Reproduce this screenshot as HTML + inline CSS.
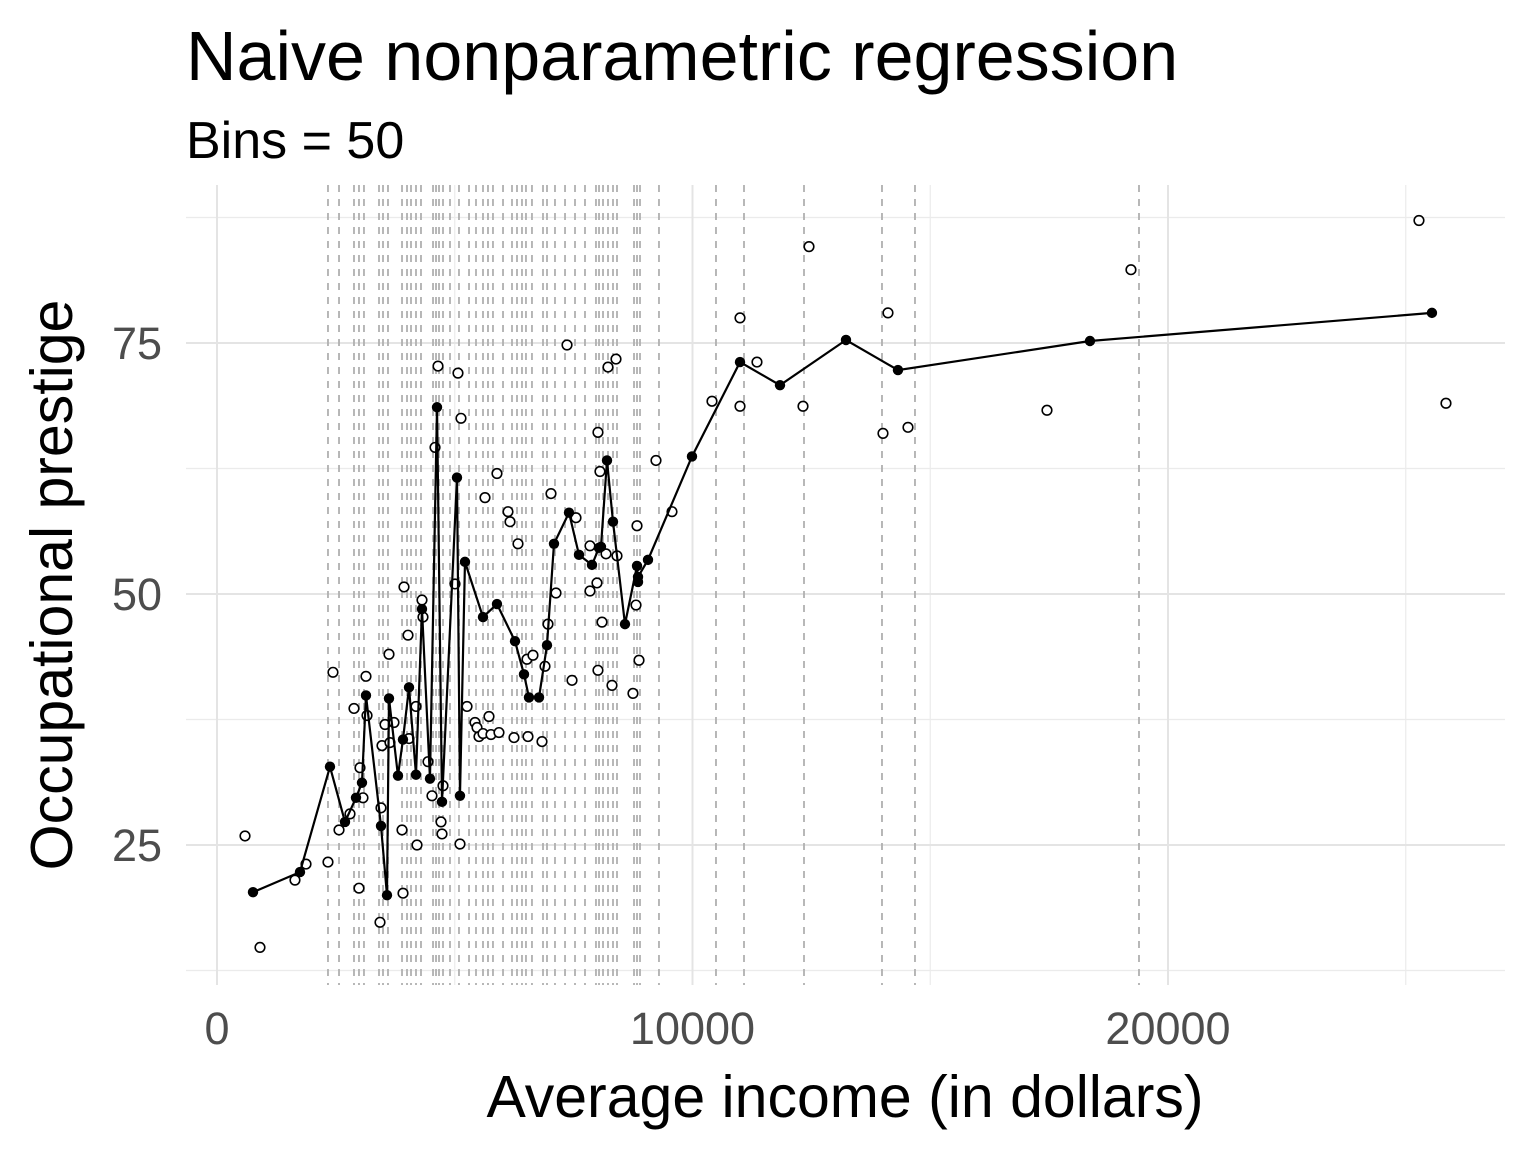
<!DOCTYPE html>
<html><head><meta charset="utf-8"><style>
html,body{margin:0;padding:0;background:#fff;}
svg{display:block;font-family:"Liberation Sans",sans-serif;}
</style></head><body>
<svg id="chart" width="1536" height="1152" viewBox="0 0 1536 1152" xmlns="http://www.w3.org/2000/svg">
<text x="186" y="80" font-size="70" fill="#000">Naive nonparametric regression</text>
<text x="186" y="158" font-size="52" fill="#000">Bins = 50</text>
<g id="grid"></g>
<g id="bins"></g>
<g id="raw"></g>
<g id="means"></g>
<g id="axes"></g>
<text x="845" y="1117" font-size="59" text-anchor="middle" fill="#000">Average income (in dollars)</text>
<text transform="translate(72,585) rotate(-90)" font-size="59" text-anchor="middle" fill="#000">Occupational prestige</text>
</svg>
<script>
const xTicks=[0,10000,20000];
const xMinor=[5000,15000,25000];
const yTicks=[25,50,75];
const yMinor=[12.5,37.5,62.5,87.5];
const binEdges=[2334,2566,2881,2986,3091,3407,3491,3596,3891,3996,4080,4185,4290,4543,4606,4669,4753,4900,5089,5300,5447,5594,5699,5804,6015,6204,6309,6414,6498,6624,6856,6940,7108,7319,7529,7739,7970,8034,8118,8223,8328,8412,8770,8833,8896,9295,10494,11083,12345,13985,14679,19390];
const rawIncome=[589,904,1640,1872,2334,2439,2566,2797,2881,2986,3007,3070,3133,3155,3428,3449,3470,3533,3617,3638,3722,3891,3912,3933,4017,4038,4185,4206,4311,4332,4437,4521,4585,4648,4711,4732,4753,5005,5068,5110,5131,5258,5426,5468,5510,5594,5636,5720,5762,5888,5930,6120,6162,6246,6330,6519,6540,6645,6835,6898,6961,7024,7129,7361,7466,7550,7844,7844,7991,8012,8012,8054,8097,8181,8223,8307,8391,8412,8748,8812,8833,8875,9232,9569,10410,10999,10999,11356,12324,12450,14006,14111,14532,17455,19221,25278,25846];
const rawPrestige=[25.9,14.8,21.5,23.1,23.3,42.2,26.5,28.1,38.6,20.7,32.7,29.7,41.8,37.9,17.3,28.7,34.9,37.0,44.0,35.2,37.2,26.5,20.2,50.7,45.9,35.6,38.8,25.0,49.4,47.7,33.3,29.9,64.6,72.7,27.3,26.1,30.9,51.0,72.0,25.1,67.5,38.8,37.2,36.7,35.8,36.1,59.6,37.8,36.0,62.0,36.2,58.2,57.2,35.7,55.0,43.5,35.8,43.9,35.3,42.8,47.0,60.0,50.1,74.8,41.4,57.6,54.8,50.3,51.1,66.1,42.4,62.2,47.2,54.0,72.6,40.9,73.4,53.8,40.1,48.9,56.8,43.4,63.3,58.2,69.2,77.5,68.7,73.1,68.7,84.6,66.0,78.0,66.6,68.3,82.3,87.2,69.0];
const meanIncome=[757,1745,2376,2692,2923,3049,3133,3449,3575,3617,3806,3911,4038,4185,4311,4479,4627,4732,5047,5110,5215,5594,5888,6267,6456,6561,6772,6940,7087,7403,7613,7886,8033,8075,8202,8328,8580,8833,8854,8854,9064,9989,10999,11840,13228,14321,18359,25551];
const meanPrestige=[20.3,22.3,32.8,27.3,29.7,31.2,39.9,26.9,20.0,39.6,31.9,35.5,40.7,32.0,48.5,31.6,68.6,29.3,61.6,29.9,53.2,47.7,49.0,45.3,42.0,39.7,39.7,44.9,55.0,58.1,53.9,52.9,54.6,54.7,63.3,57.2,47.0,52.8,51.2,51.7,53.4,63.7,73.1,70.8,75.3,72.3,75.2,78.0];

const NS="http://www.w3.org/2000/svg";
const PL=186,PR=1505,PT=185,PB=985;
const sx=v=>217+v*0.04755;
const sy=v=>343-(v-75)*10.04;
function mk(tag,attrs,parent){const e=document.createElementNS(NS,tag);for(const k in attrs)e.setAttribute(k,attrs[k]);parent.appendChild(e);return e;}
const grid=document.getElementById('grid'),bins=document.getElementById('bins'),raw=document.getElementById('raw'),means=document.getElementById('means'),axes=document.getElementById('axes');
xMinor.forEach(v=>{const l=mk('line',{x1:sx(v),x2:sx(v),y1:PT,y2:PB,stroke:'#ebebeb','stroke-width':1.2},grid);

});
yMinor.forEach(v=>{const l=mk('line',{x1:PL,x2:PR,y1:sy(v),y2:sy(v),stroke:'#ebebeb','stroke-width':1.2},grid);

});
xTicks.forEach(v=>{const l=mk('line',{x1:sx(v),x2:sx(v),y1:PT,y2:PB,stroke:'#e4e4e4','stroke-width':2},grid);


const t=mk('text',{x:sx(v),y:1044,'font-size':45,'text-anchor':'middle',fill:'#4d4d4d'},axes);t.textContent=v;

});
yTicks.forEach(v=>{const l=mk('line',{x1:PL,x2:PR,y1:sy(v),y2:sy(v),stroke:'#e4e4e4','stroke-width':2},grid);


const t=mk('text',{x:162,y:sy(v)+16,'font-size':45,'text-anchor':'end',fill:'#4d4d4d'},axes);t.textContent=v;

});
binEdges.forEach(v=>{const l=mk('line',{x1:sx(v),x2:sx(v),y1:PT,y2:PB,stroke:'#b0b0b0','stroke-width':1.8,'stroke-dasharray':'7,7'},bins);

});
rawIncome.forEach((v,i)=>{const c=mk('circle',{cx:sx(v),cy:sy(rawPrestige[i]),r:4.8,fill:'#fff',stroke:'#000','stroke-width':1.6},raw);

});
const pl=mk('polyline',{points:meanIncome.map((v,i)=>sx(v)+','+sy(meanPrestige[i])).join(' '),fill:'none',stroke:'#000','stroke-width':2.2},means);


meanIncome.forEach((v,i)=>{const c=mk('circle',{cx:sx(v),cy:sy(meanPrestige[i]),r:5.2,fill:'#000'},means);

});
</script>
</body></html>
